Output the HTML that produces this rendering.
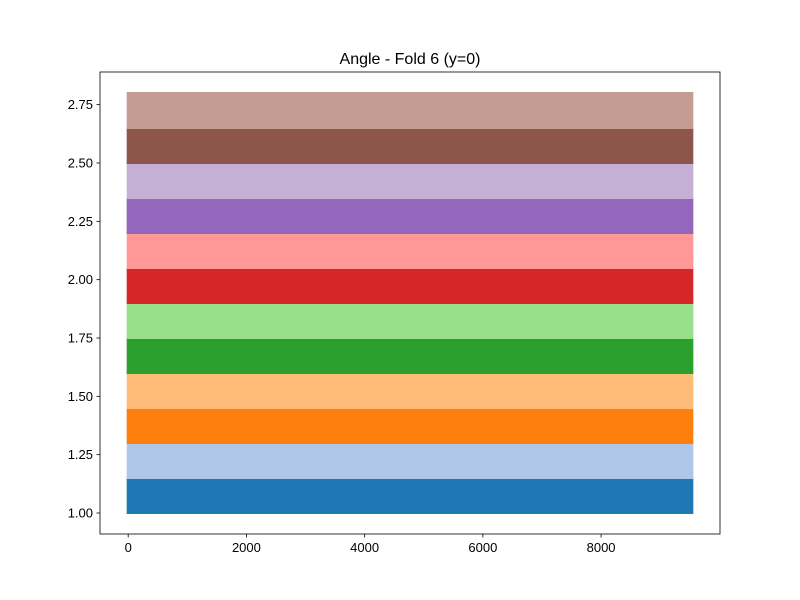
<!DOCTYPE html>
<html>
<head>
<meta charset="utf-8">
<style>
  html,body{margin:0;padding:0;background:#fff;}
  svg{display:block;font-family:"Liberation Sans","DejaVu Sans",sans-serif;}
</style>
</head>
<body>
<svg id="chart" width="800" height="600" viewBox="0 0 800 600">
  <rect x="0" y="0" width="800" height="600" fill="#fff"/>
  <text x="410" y="64" text-anchor="middle" font-size="16" fill="#000">Angle - Fold 6 (y=0)</text>
  <g id="bands"></g>
  <g id="axes"></g>
</svg>
<script>
const bandStarts = [1.00, 1.15, 1.30, 1.45, 1.60, 1.75, 1.90, 2.05, 2.20, 2.35, 2.50, 2.65];
const bandEnds   = [1.15, 1.30, 1.45, 1.60, 1.75, 1.90, 2.05, 2.20, 2.35, 2.50, 2.65, 2.80];
const bandColors = ["#1f77b4","#aec7e8","#ff7f0e","#ffbb78","#2ca02c","#98df8a","#d62728","#ff9896","#9467bd","#c5b0d5","#8c564b","#c49c94"];
const xMin = 0;
const xMax = 9535;
const xTicks = [0, 2000, 4000, 6000, 8000];
const yTicks = [1.00, 1.25, 1.50, 1.75, 2.00, 2.25, 2.50, 2.75];

const L = 100, R = 720, T = 72, B = 534;
const NS = "http://www.w3.org/2000/svg";
const dataYMin = Math.min(...bandStarts), dataYMax = Math.max(...bandEnds);
const yPad = (dataYMax - dataYMin) * 0.05, xPad = (xMax - xMin) * 0.05;
const x0 = xMin - xPad, x1 = xMax + xPad, y0 = dataYMin - yPad, y1 = dataYMax + yPad;
const sx = v => L + (v - x0) / (x1 - x0) * (R - L);
const sy = v => B - (v - y0) / (y1 - y0) * (B - T);

const bands = document.getElementById('bands');
bandStarts.forEach((s, i) => {
  const r = document.createElementNS(NS, 'rect');
  const top = sy(bandEnds[i]), bot = sy(s);
  r.setAttribute('x', sx(xMin) - 1.5);
  r.setAttribute('width', sx(xMax) - sx(xMin) + 3);
  r.setAttribute('y', top - 1);
  r.setAttribute('height', bot - top + 2);
  r.setAttribute('fill', bandColors[i]);
  
  
  bands.appendChild(r);
});

const axes = document.getElementById('axes');
const frame = document.createElementNS(NS, 'rect');
frame.setAttribute('x', L); frame.setAttribute('y', T);
frame.setAttribute('width', R - L); frame.setAttribute('height', B - T);
frame.setAttribute('fill', 'none'); frame.setAttribute('stroke', '#000'); frame.setAttribute('stroke-width', '0.8');


axes.appendChild(frame);

xTicks.forEach(v => {
  const x = sx(v);
  const t = document.createElementNS(NS, 'line');
  t.setAttribute('x1', x); t.setAttribute('x2', x); t.setAttribute('y1', B); t.setAttribute('y2', B + 3.5);
  t.setAttribute('stroke', '#000'); t.setAttribute('stroke-width', '0.8');
  
  
  axes.appendChild(t);
  const lb = document.createElementNS(NS, 'text');
  lb.setAttribute('x', x); lb.setAttribute('y', B + 18); lb.setAttribute('text-anchor', 'middle');
  lb.setAttribute('font-size', '13'); lb.textContent = String(v);
  
  
  axes.appendChild(lb);
});
yTicks.forEach(v => {
  const y = sy(v);
  const t = document.createElementNS(NS, 'line');
  t.setAttribute('x1', L - 3.5); t.setAttribute('x2', L); t.setAttribute('y1', y); t.setAttribute('y2', y);
  t.setAttribute('stroke', '#000'); t.setAttribute('stroke-width', '0.8');
  
  
  axes.appendChild(t);
  const lb = document.createElementNS(NS, 'text');
  lb.setAttribute('x', L - 7); lb.setAttribute('y', y + 4.5); lb.setAttribute('text-anchor', 'end');
  lb.setAttribute('font-size', '13'); lb.textContent = v.toFixed(2);
  
  
  axes.appendChild(lb);
});
</script>
</body>
</html>
